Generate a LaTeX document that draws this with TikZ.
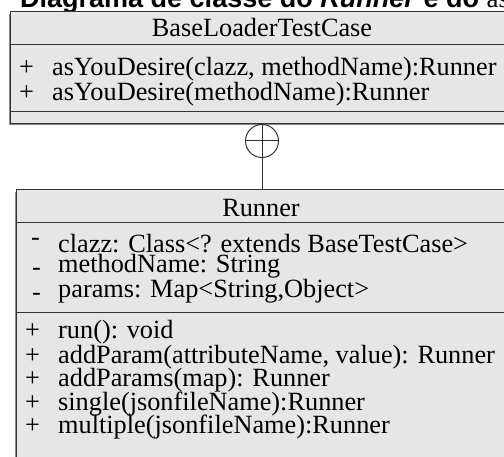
\documentclass[tikz,border=0pt]{standalone}
\usepackage{fontspec}
\setmainfont{Liberation Serif}
\setsansfont{Liberation Sans}
\definecolor{boxfill}{HTML}{E6E6E6}
\definecolor{linecol}{HTML}{333333}
\definecolor{shadowcol}{HTML}{888888}
\begin{document}
\begin{tikzpicture}[x=1pt,y=-1pt,
  box/.style={fill=boxfill, draw=linecol, line width=1pt},
  shadowbox/.style={fill=shadowcol, draw=none},
  sepline/.style={draw=linecol, line width=1pt},
  txt/.style={anchor=base west, inner sep=0pt, font=\fontsize{26.3}{30}\selectfont},
  ctxt/.style={anchor=base, inner sep=0pt, font=\fontsize{26.3}{30}\selectfont},
  titletxt/.style={anchor=base west, inner sep=0pt, font=\sffamily\bfseries\fontsize{27}{30}\selectfont},
  conn/.style={draw=linecol, line width=1pt}]
\useasboundingbox (0,0) rectangle (504,457);
\clip (0,0) rectangle (504,457);
% title
\node[titletxt] (title) at (20,8) {Diagrama de classe do \textit{Runner} e do \mdseries\rmfamily as};
% BaseLoaderTestCase box
\fill[shadowbox] (9,14) rectangle (560,125.5);
\draw[box] (10,12) rectangle (560,124);
\draw[sepline] (10,45) -- (560,45);
\draw[sepline] (10,111.5) -- (560,111.5);
\node[ctxt] (blhead) at (262,37) {BaseLoaderTestCase};
\node[txt] (blp1) at (19,76) {+};
\node[txt] (blm1) at (52,76) {asYouDesire(clazz, methodName):Runner};
\node[txt] (blp2) at (19,101) {+};
\node[txt] (blm2) at (52,101) {asYouDesire(methodName):Runner};
% nesting circle
\node[circle, draw=linecol, line width=1pt, minimum size=33pt, inner sep=0pt] (circ) at (262,141) {};
\draw[conn] (circ.north) -- (circ.south);
\draw[conn] (circ.west) -- (circ.east);
% Runner box
\fill[shadowbox] (15,192) rectangle (560,470);
\draw[box] (16,190) rectangle (560,470);
\coordinate (rtop) at (262,190);
\draw[conn] (circ.south) -- (rtop);
\draw[sepline] (16,223) -- (560,223);
\draw[sepline] (16,313) -- (560,313);
\node[ctxt] (rhead) at (261,217) {Runner};
\node[txt] (rd1) at (31,246) {-};
\node[txt] (ra1) at (58,253) {clazz: Class<? extends BaseTestCase>};
\node[txt] (rd2) at (32,276) {-};
\node[txt] (ra2) at (58,273) {methodName: String};
\node[txt] (rd3) at (32,301) {-};
\node[txt] (ra3) at (58,298) {params: Map<String,Object>};
\node[txt] (rp1) at (25,339) {+};
\node[txt] (rm1) at (58,339) {run(): void};
\node[txt] (rp2) at (25,363) {+};
\node[txt] (rm2) at (58,363) {addParam(attributeName, value): Runner};
\node[txt] (rp3) at (25,387) {+};
\node[txt] (rm3) at (58,387) {addParams(map): Runner};
\node[txt] (rp4) at (25,410) {+};
\node[txt] (rm4) at (58,410) {single(jsonfileName):Runner};
\node[txt] (rp5) at (25,433) {+};
\node[txt] (rm5) at (58,433) {multiple(jsonfileName):Runner};
\end{tikzpicture}
\end{document}
